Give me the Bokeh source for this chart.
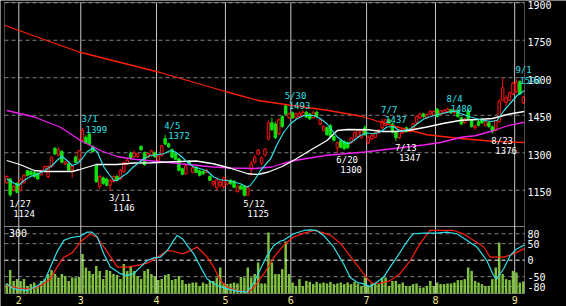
import numpy as np
from bokeh.plotting import figure
from bokeh.models import (Range1d, Label, BoxAnnotation, ColumnDataSource)
from bokeh.embed import file_html
from bokeh.resources import INLINE

# ---------------- data ----------------
month_names = ["2", "3", "4", "5", "6", "7", "8", "9"]
days_per_month = [4, 18, 22, 20, 19, 22, 20, 23, 3]   # trading days: Jan tail, Feb..Aug, Sep head

opens = [1180,1195,1150,1178,1150,1180,1228,1225,1222,1218,
         1212,1225,1205,1245,1318,1290,1305,1255,1256,1232,
         1283,1272,1350,1362,1375,1325,1250,1165,1200,1195,
         1170,1185,1205,1195,1225,1255,1298,1285,1285,1325,
         1300,1282,1290,1300,1268,1290,1357,1336,1312,1296,
         1276,1236,1216,1266,1222,1242,1228,1225,1222,1205,
         1175,1160,1170,1165,1175,1190,1186,1145,1168,1165,
         1130,1232,1262,1295,1258,1290,1355,1420,1415,1375,
         1445,1488,1440,1460,1440,1445,1450,1462,1455,1440,
         1462,1415,1390,1400,1408,1365,1320,1348,1345,1340,
         1340,1355,1365,1362,1400,1340,1355,1362,1380,1400,
         1410,1432,1415,1385,1360,1380,1400,1385,1395,1420,
         1440,1455,1440,1455,1450,1475,1455,1458,1465,1472,
         1460,1468,1440,1420,1468,1430,1400,1425,1432,1410,
         1420,1403,1390,1425,1510,1500,1510,1535,1545,1585,
         1500]
highs = [1210,1198,1172,1182,1200,1215,1232,1230,1228,1222,
         1232,1250,1250,1285,1322,1320,1310,1268,1262,1250,
         1290,1312,1399,1370,1378,1330,1255,1212,1205,1200,
         1195,1210,1212,1235,1265,1275,1305,1310,1300,1330,
         1305,1300,1312,1305,1292,1332,1372,1340,1318,1300,
         1280,1240,1255,1270,1245,1248,1232,1230,1235,1210,
         1188,1198,1190,1205,1195,1195,1190,1170,1172,1170,
         1165,1268,1290,1315,1285,1318,1430,1440,1425,1438,
         1450,1493,1462,1465,1462,1465,1470,1468,1460,1468,
         1468,1440,1410,1405,1415,1370,1345,1355,1350,1345,
         1362,1385,1395,1392,1410,1370,1378,1385,1395,1437,
         1434,1436,1420,1390,1395,1400,1405,1400,1420,1450,
         1460,1460,1458,1470,1470,1478,1472,1475,1480,1476,
         1475,1472,1445,1440,1475,1435,1412,1430,1440,1430,
         1425,1410,1432,1515,1598,1530,1545,1585,1594,1590,
         1528]
lows = [1175,1124,1145,1138,1145,1175,1205,1208,1200,1190,
        1208,1220,1198,1240,1290,1285,1258,1250,1225,1200,
        1258,1268,1345,1335,1330,1300,1180,1155,1172,1165,
        1146,1180,1185,1190,1220,1250,1270,1280,1280,1308,
        1248,1278,1285,1280,1262,1285,1330,1320,1278,1270,
        1225,1210,1212,1252,1218,1218,1205,1210,1218,1187,
        1168,1150,1160,1155,1170,1172,1158,1140,1150,1125,
        1128,1208,1255,1290,1250,1285,1350,1388,1355,1370,
        1400,1450,1435,1435,1436,1440,1445,1440,1430,1436,
        1440,1410,1385,1368,1360,1345,1300,1318,1312,1315,
        1335,1350,1360,1355,1368,1335,1350,1358,1375,1395,
        1405,1415,1378,1347,1355,1375,1380,1380,1390,1415,
        1435,1440,1436,1450,1445,1440,1450,1455,1460,1455,
        1455,1440,1410,1415,1430,1400,1392,1405,1415,1405,
        1400,1376,1385,1420,1505,1485,1505,1530,1538,1530,
        1495]
closes = [1205,1132,1165,1142,1193,1210,1210,1212,1205,1196,
          1228,1245,1245,1282,1296,1312,1262,1264,1230,1245,
          1262,1308,1390,1338,1334,1305,1184,1205,1178,1170,
          1190,1205,1190,1230,1260,1270,1278,1300,1296,1312,
          1252,1296,1307,1284,1288,1328,1335,1323,1282,1274,
          1230,1214,1248,1256,1240,1222,1210,1216,1230,1190,
          1185,1192,1182,1200,1190,1176,1162,1165,1155,1130,
          1160,1255,1282,1310,1280,1315,1420,1392,1360,1432,
          1405,1455,1455,1440,1455,1458,1462,1442,1436,1460,
          1445,1432,1404,1372,1365,1350,1340,1322,1316,1320,
          1358,1380,1390,1388,1372,1362,1370,1380,1390,1425,
          1432,1420,1382,1360,1390,1396,1385,1395,1416,1445,
          1455,1445,1452,1466,1465,1445,1468,1470,1475,1460,
          1470,1445,1415,1435,1436,1405,1408,1410,1420,1425,
          1405,1385,1428,1505,1560,1520,1540,1578,1580,1535,
          1522]
volume = [50,117,63,72,63,72,38,47,55,38,
          63,72,97,117,97,80,97,88,63,80,
          80,83,197,130,113,97,138,113,72,117,
          113,97,93,72,147,113,138,113,88,72,
          113,122,97,88,67,72,93,97,67,72,
          88,67,47,50,55,55,38,55,47,63,
          63,80,130,50,47,50,55,50,83,80,
          130,80,97,155,50,50,305,155,97,97,
          122,260,97,55,38,72,38,63,58,47,
          58,50,55,50,58,47,50,55,47,55,
          47,58,50,38,80,38,50,47,47,80,
          80,38,63,63,47,55,38,38,47,50,
          30,30,38,63,38,55,47,47,50,50,
          55,67,67,72,130,113,63,55,47,38,
          38,72,130,255,97,72,67,113,105,55,
          60]

# moving-average lines (vertices: day index, price)
ma_short_x = [0,2,3.5,5,6.9,8.8,10.8,13.2,15.1,16.1,17.5,19,20.4,21.9,23.3,25,26.3,28.2,29.6,31.1,32,33,35,36.5,
              39.8,41.7,45.6,47.5,49,50.4,52.4,54.3,56.3,58.2,60.1,62,64,65.9,67.9,69.8,70.7,72.2,73.7,75.6,76.6,
              78.6,80.5,82.4,84.3,86.3,89.2,91.1,93,94.5,96,97.9,99.3,100.8,102.7,104.7,106.6,108.5,110.4,112.4,
              114.3,117.3,119.2,121.2,124,127,130,132,134.7,137.6,140.5,142.4,144.4,146.3,148.2,149.7,150.3]
ma_short_y = [1196,1179,1169,1189,1205,1213,1227,1249,1276,1285,1269,1249,1256,1276,1303,1319,1303,1243,1216,1189,1189,1200,1219,1240,
              1276,1289,1296,1309,1303,1289,1263,1243,1236,1227,1203,1192,1189,1183,1176,1163,1169,1196,1229,1260,1275,
              1336,1383,1416,1436,1449,1449,1436,1416,1389,1363,1343,1336,1349,1369,1379,1376,1383,1403,1405,
              1385,1396,1416,1436,1449,1459,1467,1456,1443,1432,1425,1429,1469,1499,1529,1543,1548]
ma_mid_x = [0,4,8,11,19,21,26,32,37,42,50,55,60,65,70,73,76,80,84,88,93,96,99,105,109,113,117,122,127,132,137,141,146,150.3]
ma_mid_y = [1269,1252,1229,1225,1225,1232,1253,1253,1259,1260,1265,1267,1256,1238,1216,1213,1223,1245,1275,1309,1349,1389,1393,1392,1385,1385,1390,1403,1418,1430,1433,1437,1455,1465]
ma_long_x = [0,8,15.6,21.4,27.2,32,37,45.6,50.4,60,65,72,77,80,84,93,104,112,121,126,132,136,141,145.5,150.3]
ma_long_y = [1469,1443,1402,1349,1309,1285,1274,1263,1256,1243,1239,1237,1243,1256,1270,1290,1303,1316,1331,1341,1362,1368,1387,1408,1422]
ma_vlong_x = [-0.6,10,21,44,64,73,83,93,103,112,122,131,141,150.3]
ma_vlong_y = [1810,1757,1703,1623,1543,1509,1489,1470,1446,1408,1372,1358,1346,1341]

# oscillator lines (lower panel)
osc_a_x = [0,2,6,9,11,12.7,14.6,16.6,18.5,21.4,23.4,24.8,26.3,28.2,30.1,33,35,36.9,38.8,40.8,42.7,44.6,46.6,48.5,49.5,51,
           52.4,54.3,56.3,58.2,61.1,64,66.9,69.8,71.8,73.7,75.6,77.6,79.5,80.4,83.3,86.3,88.1,90,92,94.9,97.8,99.7,101.7,
           103.6,105.5,107.5,109.4,111.3,113.3,115.2,117.2,118.1,121,124.9,127.8,130.7,133.6,136.5,139.4,141.3,142.3,
           144.3,146.2,148.1,150.3]
osc_a_y = [-72,-87,-92,-77,-62,-21,25,60,68,73,85,85,70,19,-21,-41,-46,-41,-21,-1,7,9,29,60,75,65,
           45,19,-21,-57,-77,-87,-94,-97,-67,-26,14,45,58,60,80,90,92,90,75,40,-11,-52,-67,
           -72,-80,-67,-52,-21,9,40,70,80,82,82,85,80,60,40,-1,-46,-57,
           -26,14,34,46]
osc_b_x = [0,4,7,9.8,12.7,14.6,16.6,19,21.4,24.3,26.3,29.2,32.1,35,37.9,40.8,43.8,46.6,48.5,51,53.4,55.3,58.2,60.1,62.1,
           64,66.9,70.3,71.8,74.7,77.6,80.4,83.3,86.3,89.3,91.2,94.1,97,99.9,102.9,104.8,106.2,108.7,111.3,114.2,117.2,
           120,122.9,125.8,129.7,132.6,135.5,138.5,140.4,144.3,147.2,150.3]
osc_b_y = [-77,-87,-87,-77,-57,-21,9,22,55,80,68,25,-21,-21,-16,-9,9,29,27,19,29,40,9,-21,-62,
           -82,-92,-97,-82,-41,9,45,70,82,90,85,75,50,9,-31,-57,-70,-70,-62,-41,-1,
           50,90,90,90,80,60,40,9,9,19,35]

# labelled highs / lows
hi_idx = [22, 46, 81, 109, 128, 148]
hi_dates = ["3/1", "4/5", "5/30", "7/7", "8/4", "9/1"]
hi_vals = [1399, 1372, 1493, 1437, 1480, 1594]
lo_idx = [1, 30, 69, 96, 113, 141]
lo_dates = ["1/27", "3/11", "5/12", "6/20", "7/13", "8/23"]
lo_vals = [1124, 1146, 1125, 1300, 1347, 1376]

price_ticks = [1150, 1300, 1450, 1600, 1750, 1900]
osc_ticks = [80, 50, 0, -50, -80]
vol_label = 300

# ---------------- layout constants (px) ----------------
W, H = 566, 306
BOX_L, BOX_R = 4, 524          # chart boxes, left/right edge
MAIN_T, MAIN_B = 2, 226        # price box top/bottom
LOW_T, LOW_B = 226, 293        # lower box top/bottom

FONT = "DejaVu Sans Mono"
RED = "#ff1010"
GREEN = "#10e010"
CYAN = "#30e0e8"
MAG = "#f020f0"
VOLC = "#80c040"
GRID_V = "#c8c8c8"
GRID_H = "#808080"
MONTHC = "#f0e890"

n = len(opens)
idx = list(range(n))
cum = np.cumsum(days_per_month)
month_bounds = [float(c) - 0.5 for c in cum[:-1]]

X0, X1 = -0.65, n - 0.65                  # day-index extent of the boxes
Y0, Y1 = 1005, 1901                       # price extent of main box
O0, O1 = -101, 102                        # oscillator extent of lower box
V0, V1 = 0, 335                           # volume extent of lower box


def full_range(a, b, top_px, bottom_px):
    """Range over the whole canvas height such that a..b sits at bottom_px..top_px."""
    per = (b - a) / (bottom_px - top_px)
    return Range1d(a - (H - bottom_px) * per, b + top_px * per)


pxu = (BOX_R - BOX_L) / (X1 - X0)
p = figure(width=W, height=H,
           x_range=Range1d(X0 - BOX_L / pxu, X1 + (W - BOX_R) / pxu),
           y_range=full_range(Y0, Y1, MAIN_T, MAIN_B),
           x_axis_location=None, y_axis_location=None,
           output_backend="svg", toolbar_location=None,
           min_border_left=0, min_border_right=0, min_border_top=0, min_border_bottom=0,
           background_fill_color="black", border_fill_color="black", outline_line_color=None)
p.extra_y_ranges = {"osc": full_range(O0, O1, LOW_T, LOW_B),
                    "vol": full_range(V0, V1, LOW_T, LOW_B)}
p.xgrid.visible = False
p.ygrid.visible = False

# ---- main panel grid
gp = [t for t in price_ticks if Y0 < t < Y1]
p.segment(x0=[X0] * len(gp), x1=[X1] * len(gp), y0=gp, y1=gp,
          line_color=GRID_H, line_dash="4 3", line_width=1)
nb = len(month_bounds)
p.segment(x0=month_bounds, x1=month_bounds, y0=[Y0] * nb, y1=[Y1] * nb,
          line_color=GRID_V, line_width=1)

# ---- lower panel grid
go = [t for t in osc_ticks if t != 0]
p.segment(x0=[X0] * len(go), x1=[X1] * len(go), y0=go, y1=go, y_range_name="osc",
          line_color=GRID_H, line_dash="4 3", line_width=1)
p.segment(x0=month_bounds, x1=month_bounds, y0=[O0] * nb, y1=[O1] * nb, y_range_name="osc",
          line_color=GRID_V, line_width=1)

# ---- candles
up = [i for i in idx if closes[i] >= opens[i]]
dn = [i for i in idx if closes[i] < opens[i]]
src_up = ColumnDataSource(dict(x=up, top=[closes[i] for i in up], bottom=[opens[i] for i in up],
                               hi=[highs[i] for i in up], lo=[lows[i] for i in up]))
src_dn = ColumnDataSource(dict(x=dn, top=[opens[i] for i in dn], bottom=[closes[i] for i in dn],
                               hi=[highs[i] for i in dn], lo=[lows[i] for i in dn]))
p.segment(x0="x", y0="lo", x1="x", y1="hi", source=src_up, line_color=RED, line_width=1)
p.segment(x0="x", y0="lo", x1="x", y1="hi", source=src_dn, line_color=GREEN, line_width=1)
p.vbar(x="x", width=0.72, top="top", bottom="bottom", source=src_up,
       fill_color="black", line_color=RED, line_width=1)
p.vbar(x="x", width=0.72, top="top", bottom="bottom", source=src_dn,
       fill_color=GREEN, line_color=GREEN, line_width=1)

# ---- moving averages
p.line(ma_vlong_x, ma_vlong_y, line_color="#ff2000", line_width=1.3)
p.line(ma_long_x, ma_long_y, line_color=MAG, line_width=1.3)
p.line(ma_mid_x, ma_mid_y, line_color="white", line_width=1.3)
p.line(ma_short_x, ma_short_y, line_color=CYAN, line_width=1.2)

# ---- volume + oscillator
p.vbar(x=idx, top=volume, bottom=0, width=0.72, y_range_name="vol",
       fill_color=VOLC, line_color=None)
p.segment(x0=[X0], x1=[X1], y0=[0], y1=[0], y_range_name="osc",
          line_color="white", line_dash="4 3", line_width=1)
p.line(osc_b_x, osc_b_y, y_range_name="osc", line_color="#ff2010", line_width=1.2)
p.line(osc_a_x, osc_a_y, y_range_name="osc", line_color=CYAN, line_width=1.2)

# ---- box borders
p.add_layout(BoxAnnotation(left=X0, right=X1, bottom=Y0, top=Y1, fill_color=None,
                           line_color="white", line_width=1))
p.add_layout(BoxAnnotation(left=X0, right=X1, bottom=O0, top=O1, y_range_name="osc",
                           fill_color=None, line_color="white", line_width=1))

# ---- axis texts
for t in price_ticks:
    p.add_layout(Label(x=X1, y=t, text=str(t), x_offset=3, y_offset=-2, text_color="white",
                       text_font=FONT, text_font_size="10px", text_baseline="middle"))
for t in osc_ticks:
    p.add_layout(Label(x=X1, y=t, y_range_name="osc", text=str(t), x_offset=3, y_offset=0,
                       text_color="white", text_font=FONT, text_font_size="10px",
                       text_baseline="middle"))
for b, m in zip(month_bounds, month_names):
    p.add_layout(Label(x=b, y=O0, y_range_name="osc", text=m, y_offset=-2, text_color=MONTHC,
                       text_font=FONT, text_font_size="10px", text_baseline="top",
                       text_align="center"))
p.add_layout(Label(x=X0, y=vol_label, y_range_name="vol", x_offset=4.5, y_offset=1,
                   text=str(vol_label), text_color="white", text_font=FONT,
                   text_font_size="10px", text_baseline="middle"))

# ---- high / low annotations
lab = dict(text_font=FONT, text_font_size="9px", text_baseline="alphabetic", text_align="left")
for i, d, v in zip(hi_idx, hi_dates, hi_vals):
    p.add_layout(Label(x=i, y=v, text=d, x_offset=-1, y_offset=9, text_color=CYAN, **lab))
    p.add_layout(Label(x=i, y=v, text=str(v), x_offset=3, y_offset=-1, text_color=CYAN, **lab))
for i, d, v in zip(lo_idx, lo_dates, lo_vals):
    p.add_layout(Label(x=i, y=v, text=d, x_offset=-1, y_offset=-7, text_color="white", **lab))
    p.add_layout(Label(x=i, y=v, text=str(v), x_offset=3, y_offset=-16.5, text_color="white", **lab))

open("out.html", "w").write(file_html(p, INLINE))
